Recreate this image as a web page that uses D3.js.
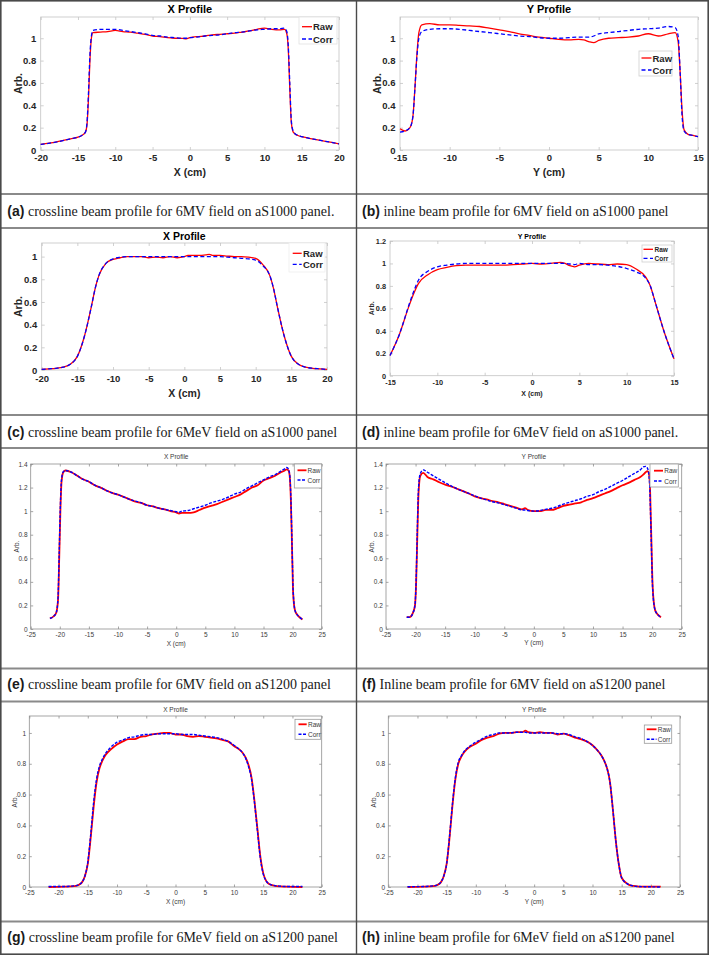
<!DOCTYPE html>
<html><head><meta charset="utf-8">
<script src="https://cdn.jsdelivr.net/npm/d3@7"></script>
<style>body{margin:0;background:#fff}svg{display:block}</style>
</head><body>
<svg id="fig" width="709" height="955"></svg>
<script>
// ---------------- DATA ----------------
const seriesNames = ['Raw', 'Corr'];
const titles = ['X Profile','Y Profile','X Profile','Y Profile','X Profile','Y Profile','X Profile','Y Profile'];
const xLabels = ['X (cm)','Y (cm)','X (cm)','X (cm)','X (cm)','Y (cm)','X (cm)','Y (cm)'];
const yLabel = 'Arb.';
const capTags = ['(a)','(b)','(c)','(d)','(e)','(f)','(g)','(h)'];
const capTexts = [
  ' crossline beam profile for 6MV field on aS1000 panel.',
  ' inline beam profile for 6MV field on aS1000 panel',
  ' crossline beam profile for 6MeV field on aS1000 panel',
  ' inline beam profile for 6MeV field on aS1000 panel.',
  ' crossline beam profile for 6MV field on aS1200 panel',
  ' Inline beam profile for 6MV field on aS1200 panel',
  ' crossline beam profile for 6MeV field on aS1200 panel',
  ' inline beam profile for 6MeV field on aS1200 panel'
];
const xTicks20 = [-20,-15,-10,-5,0,5,10,15,20];
const xTicks15 = [-15,-10,-5,0,5,10,15];
const xTicks25 = [-25,-20,-15,-10,-5,0,5,10,15,20,25];
const yTicks10 = [0,0.2,0.4,0.6,0.8,1];
const yTicks12 = [0,0.2,0.4,0.6,0.8,1,1.2];
const yTicks14 = [0,0.2,0.4,0.6,0.8,1,1.2,1.4];

const xA = [-20,-18,-16,-15,-14.5,-14,-13.8,-13.6,-13.4,-13.2,-13,-12,-11,-10,-9,-8,-7,-6,-5,-4,-3,-2,-1,-0.5,0,1,2,3,4,5,6,7,8,9,10,11,12,12.7,13,13.2,13.4,13.6,13.8,14,14.5,15,16,18,20];
const rawA = [0.05,0.07,0.1,0.115,0.13,0.16,0.22,0.45,0.8,1.0,1.05,1.055,1.06,1.07,1.06,1.055,1.045,1.035,1.02,1.015,1.005,1.0,0.998,0.995,1.005,1.015,1.02,1.03,1.035,1.04,1.045,1.055,1.065,1.08,1.09,1.08,1.075,1.08,1.04,0.9,0.55,0.25,0.17,0.15,0.13,0.12,0.105,0.08,0.055];
const corrA = [0.05,0.07,0.1,0.115,0.13,0.16,0.24,0.5,0.85,1.02,1.07,1.08,1.08,1.08,1.07,1.06,1.05,1.04,1.025,1.02,1.01,1.005,1.0,1.0,1.005,1.01,1.02,1.025,1.03,1.04,1.05,1.055,1.065,1.075,1.08,1.085,1.085,1.09,1.06,0.93,0.6,0.27,0.18,0.155,0.13,0.12,0.105,0.08,0.055];

const xB = [-15,-14.5,-14,-13.7,-13.5,-13.3,-13.1,-12.8,-12,-11,-10,-9,-8,-7,-6,-5,-4,-3,-2,-1,0,1,2,3,3.5,4,4.5,5,6,7,8,9,10,11,12,12.7,13,13.2,13.4,13.6,14,14.5,15];
const rawB = [0.19,0.17,0.2,0.3,0.55,0.85,1.05,1.12,1.13,1.12,1.12,1.115,1.11,1.105,1.09,1.075,1.06,1.04,1.025,1.01,1.0,0.99,0.985,0.99,0.985,0.97,0.96,0.98,1.0,1.005,1.01,1.02,1.04,1.02,1.04,1.05,0.97,0.7,0.35,0.18,0.14,0.13,0.12];
const corrB = [0.16,0.17,0.2,0.3,0.55,0.83,1.0,1.06,1.08,1.085,1.085,1.08,1.07,1.06,1.05,1.04,1.03,1.02,1.015,1.005,1.0,1.0,1.005,1.01,1.01,1.01,1.02,1.04,1.05,1.06,1.07,1.08,1.085,1.09,1.105,1.095,1.02,0.7,0.3,0.17,0.14,0.13,0.12];

const xC = [-20,-19,-18,-17,-16,-15,-14,-13,-12.5,-12,-11,-10,-9,-8,-7,-6,-5,-4,-3,-2,-1,0,0.5,1,2,3,3.5,4,5,6,7,8,9,10,11,12,12.5,13,14,15,16,17,18,19,20];
const rawC = [0.005,0.01,0.015,0.025,0.05,0.12,0.3,0.57,0.72,0.83,0.94,0.975,0.99,1.0,1.0,1.0,0.99,0.995,0.99,1.0,0.99,1.0,1.01,1.01,1.01,1.015,1.02,1.01,1.01,1.005,1.0,1.0,0.995,0.985,0.93,0.83,0.72,0.57,0.3,0.12,0.05,0.025,0.015,0.01,0.005];
const corrC = [0.005,0.01,0.015,0.025,0.05,0.12,0.3,0.57,0.72,0.83,0.94,0.98,0.995,1.0,1.0,1.0,1.0,1.0,1.0,1.0,1.0,1.0,1.0,1.0,1.0,1.0,1.0,1.0,1.0,0.995,0.99,0.985,0.98,0.97,0.92,0.83,0.72,0.57,0.3,0.12,0.05,0.025,0.015,0.01,0.005];

const xD = [-15,-14,-13,-12.5,-12,-11,-10,-9,-8,-7,-6,-5,-4,-3,-2,-1,0,1,2,3,3.5,4,4.5,5,6,7,8,9,10,11,12,12.5,13,14,15];
const rawD = [0.18,0.37,0.62,0.73,0.82,0.9,0.945,0.965,0.98,0.985,0.985,0.985,0.985,0.985,0.99,0.995,1.0,0.995,1.0,1.01,1.0,0.98,0.97,0.985,1.0,0.995,0.99,0.995,0.99,0.95,0.88,0.8,0.66,0.38,0.15];
const corrD = [0.18,0.37,0.63,0.75,0.85,0.93,0.97,0.985,0.995,1.0,1.0,1.0,1.0,1.0,1.0,1.0,1.0,1.0,1.0,1.0,1.0,0.995,0.99,1.0,0.99,0.99,0.985,0.975,0.955,0.925,0.87,0.8,0.66,0.38,0.15];

const xE = [-21.7,-21,-20.6,-20.3,-20.1,-19.9,-19.7,-19.4,-19,-18,-17,-16,-15,-14,-13,-12,-11,-10,-9,-8,-7,-6,-5,-4,-3,-2,-1,0,0.5,1,2,3,4,5,6,7,8,9,10,11,12,13,14,15,16,17,18,18.5,19,19.3,19.5,19.7,19.9,20.1,20.4,20.8,21.2,21.7];
const rawE = [0.09,0.11,0.14,0.25,0.6,1.0,1.25,1.33,1.345,1.33,1.3,1.27,1.25,1.22,1.2,1.175,1.155,1.14,1.12,1.1,1.08,1.07,1.05,1.04,1.025,1.015,1.0,0.99,0.98,0.985,0.985,0.99,1.01,1.03,1.045,1.06,1.08,1.1,1.12,1.14,1.17,1.2,1.22,1.26,1.28,1.3,1.33,1.34,1.355,1.345,1.3,1.1,0.7,0.3,0.16,0.12,0.1,0.08];
const corrE = [0.09,0.11,0.14,0.27,0.65,1.05,1.27,1.335,1.345,1.33,1.3,1.27,1.25,1.22,1.2,1.175,1.155,1.14,1.12,1.1,1.085,1.07,1.05,1.04,1.025,1.015,1.005,0.995,0.99,1.0,1.005,1.02,1.035,1.05,1.07,1.085,1.1,1.12,1.145,1.16,1.19,1.215,1.24,1.265,1.29,1.31,1.34,1.355,1.37,1.355,1.31,1.12,0.72,0.32,0.16,0.12,0.1,0.08];

const xF = [-21.5,-21,-20.5,-20.1,-19.9,-19.7,-19.5,-19.2,-18.7,-18,-17,-16,-15,-14,-13,-12,-11,-10,-9,-8,-7,-6,-5,-4,-3,-2,-1.5,-1,0,1,2,3,4,5,6,7,8,9,10,11,12,13,14,15,16,17,18,18.5,18.9,19.2,19.4,19.6,19.8,20.1,20.5,21,21.5];
const rawF = [0.1,0.1,0.13,0.2,0.4,0.8,1.15,1.3,1.325,1.29,1.27,1.245,1.225,1.21,1.19,1.17,1.15,1.125,1.11,1.1,1.085,1.075,1.06,1.045,1.03,1.015,1.025,1.01,1.0,1.0,1.01,1.01,1.025,1.045,1.055,1.065,1.075,1.095,1.11,1.13,1.15,1.17,1.195,1.22,1.24,1.265,1.29,1.31,1.33,1.34,1.33,1.25,0.9,0.35,0.16,0.12,0.1];
const corrF = [0.1,0.1,0.13,0.2,0.42,0.85,1.2,1.32,1.35,1.33,1.3,1.27,1.24,1.215,1.19,1.17,1.15,1.13,1.11,1.095,1.08,1.07,1.055,1.04,1.025,1.01,1.01,1.005,1.0,1.005,1.015,1.025,1.04,1.06,1.075,1.09,1.105,1.125,1.14,1.165,1.185,1.21,1.235,1.26,1.29,1.32,1.35,1.375,1.38,1.365,1.33,1.2,0.85,0.33,0.16,0.12,0.1];

const xG = [-21.7,-19,-18,-17,-16.5,-16,-15.5,-15,-14.5,-14,-13.5,-13,-12.5,-12,-11,-10,-9,-8,-7,-6,-5,-4,-3,-2,-1,0,1,2,3,4,5,6,7,8,9,10,11,11.5,12,12.5,13,13.5,14,14.5,15,15.5,16,17,18,19,21.7];
const rawG = [0.0,0.002,0.004,0.008,0.015,0.03,0.07,0.15,0.32,0.52,0.68,0.77,0.82,0.855,0.895,0.925,0.945,0.96,0.96,0.975,0.98,0.99,0.995,1.0,1.0,0.99,0.99,0.98,0.975,0.98,0.975,0.97,0.965,0.955,0.945,0.915,0.89,0.87,0.84,0.79,0.71,0.56,0.38,0.2,0.09,0.04,0.02,0.008,0.004,0.002,0.0];
const corrG = [0.003,0.003,0.005,0.009,0.016,0.03,0.07,0.16,0.34,0.55,0.7,0.785,0.83,0.865,0.91,0.94,0.955,0.97,0.975,0.985,0.99,0.99,0.995,0.995,0.995,0.995,0.99,0.99,0.99,0.985,0.98,0.975,0.97,0.96,0.945,0.92,0.89,0.87,0.835,0.78,0.7,0.55,0.37,0.19,0.085,0.04,0.02,0.009,0.005,0.003,0.003];

const xH = [-21.7,-19,-18,-17,-16.5,-16,-15.5,-15,-14.5,-14,-13.5,-13,-12.5,-12,-11,-10,-9,-8,-7,-6,-5,-4,-3,-2,-1.5,-1,0,1,2,3,4,5,6,7,8,9,10,11,11.5,12,12.5,13,13.5,14,14.5,15,16,17,18,19,21.7];
const rawH = [0.0,0.002,0.004,0.008,0.015,0.03,0.07,0.15,0.32,0.53,0.7,0.8,0.845,0.875,0.91,0.93,0.955,0.97,0.98,0.995,1.0,1.0,1.005,1.005,1.015,1.005,1.0,1.005,1.0,1.0,0.99,0.995,0.985,0.97,0.96,0.945,0.92,0.88,0.855,0.82,0.77,0.68,0.5,0.3,0.15,0.06,0.02,0.007,0.003,0.002,0.002];
const corrH = [0.002,0.003,0.005,0.009,0.016,0.03,0.07,0.15,0.33,0.54,0.71,0.81,0.85,0.88,0.915,0.94,0.96,0.98,0.99,1.0,1.0,1.0,1.005,1.005,1.005,1.0,1.0,1.0,1.0,1.0,0.995,0.995,0.99,0.975,0.965,0.945,0.92,0.88,0.855,0.82,0.77,0.68,0.5,0.3,0.15,0.06,0.02,0.007,0.003,0.002,0.0];

// ---------------- LAYOUT ----------------
const panels = [
 {x:xA, raw:rawA, corr:corrA, L:40.7,R:339,T:17,B:150, xd:[-20,20], yd:[0,1.19], xt:xTicks20, yt:yTicks10, st:'new',
  fs:9.5, tfs:11, lfs:10.5, titleY:9, xlabY:172, ylabX:18, xOff:8, yOff:4.5,
  leg:{x0:299,y0:17,x1:337,y1:44,l0:302,l1:312,tx:313,r1:26.7,r2:39,fs:9.5,stroke:'#e2e2e2'}},
 {x:xB, raw:rawB, corr:corrB, L:400,R:698,T:17,B:150, xd:[-15,15], yd:[0,1.19], xt:xTicks15, yt:yTicks10, st:'new',
  fs:9.5, tfs:11, lfs:10.5, titleY:9, xlabY:172, ylabX:376.7, xOff:8, yOff:4.5,
  leg:{x0:639,y0:51,x1:672,y1:76,l0:641.5,l1:651.5,tx:652.5,r1:58,r2:70,fs:9.5,stroke:'#cfcfcf'}},
 {x:xC, raw:rawC, corr:corrC, L:41.7,R:327,T:243,B:370, xd:[-20,20], yd:[0,1.12], xt:xTicks20, yt:yTicks10, st:'new',
  fs:9.5, tfs:10.5, lfs:10.5, titleY:236, xlabY:393, ylabX:18.3, xOff:9, yOff:4.5,
  leg:{x0:289,y0:243,x1:325,y1:272,l0:292.7,l1:301.7,tx:303,r1:253.3,r2:264.3,fs:9.5,stroke:'#eeeeee'}},
 {x:xD, raw:rawD, corr:corrD, L:390,R:674,T:241,B:375.7, xd:[-15,15], yd:[0,1.2], xt:xTicks15, yt:yTicks12, st:'new',
  fs:7.3, tfs:7, lfs:7, titleY:236, xlabY:393, ylabX:371.7, xOff:7, yOff:4,
  leg:{x0:642,y0:245,x1:672,y1:262,l0:643.5,l1:653,tx:654.5,r1:249.3,r2:258.3,fs:6.5,stroke:'#cfcfcf'}},
 {x:xE, raw:rawE, corr:corrE, L:30.7,R:321.7,T:464,B:629, xd:[-25,25], yd:[0,1.4], xt:xTicks25, yt:yTicks14, st:'old',
  fs:6.5, tfs:6.5, lfs:6.5, titleY:456, xlabY:643, ylabX:16, xOff:6, yOff:3.2,
  leg:{x0:294.3,y0:464,x1:321.7,y1:488,l0:297.5,l1:306.5,tx:307.5,r1:470.3,r2:480,fs:6.5,stroke:'#9a9a9a'}},
 {x:xF, raw:rawF, corr:corrF, L:386,R:681.7,T:464,B:629, xd:[-25,25], yd:[0,1.4], xt:xTicks25, yt:yTicks14, st:'old',
  fs:6.5, tfs:6.5, lfs:6.5, titleY:456, xlabY:642.3, ylabX:371, xOff:6, yOff:3.2,
  leg:{x0:650,y0:464,x1:678.3,y1:487,l0:654,l1:663,tx:664.3,r1:470.7,r2:481,fs:6.5,stroke:'#9a9a9a'}},
 {x:xG, raw:rawG, corr:corrG, L:29.3,R:321.7,T:716,B:887, xd:[-25,25], yd:[0,1.11], xt:xTicks25, yt:yTicks10, st:'old',
  fs:6.5, tfs:6.5, lfs:6.5, titleY:709, xlabY:901, ylabX:14.3, xOff:6, yOff:3.2,
  leg:{x0:295,y0:719.3,x1:320.7,y1:739.3,l0:298.5,l1:306.7,tx:308,r1:724.3,r2:734.3,fs:6.5,stroke:'#9a9a9a'}},
 {x:xH, raw:rawH, corr:corrH, L:388.3,R:680,T:716,B:887, xd:[-25,25], yd:[0,1.11], xt:xTicks25, yt:yTicks10, st:'old',
  fs:6.5, tfs:6.5, lfs:6.5, titleY:709, xlabY:901, ylabX:373.3, xOff:6, yOff:3.2,
  leg:{x0:644.3,y0:725,x1:671.7,y1:743.3,l0:646.7,l1:656.5,tx:657.7,r1:729.3,r2:739.3,fs:6.5,stroke:'#9a9a9a'}}
];
const captionRows = [211, 432, 683.5, 937];
const captionX = [7.3, 362];
const hLines = [194, 228, 415, 448, 668.5, 701.5, 921.5];

// ---------------- DRAW ----------------
const svg = d3.select('#fig');
svg.append('rect').attr('width',709).attr('height',955).attr('fill','#fff');

const fmt = d => String(+d.toFixed(2));

panels.forEach((p, i) => {
  const isNew = p.st === 'new';
  const font = isNew ? "'Liberation Sans', Arial, sans-serif" : "'Liberation Sans', Arial, Helvetica, sans-serif";
  const weight = isNew ? 'bold' : 'normal';
  const txtCol = isNew ? '#262626' : '#3a3a3a';
  const boxCol = isNew ? '#c4c4c4' : '#8f8f8f';
  const tick = isNew ? 3 : 2.5;
  const xs = d3.scaleLinear().domain(p.xd).range([p.L, p.R]);
  const ys = d3.scaleLinear().domain(p.yd).range([p.B, p.T]);
  const g = svg.append('g').attr('font-family', font).attr('font-weight', weight);

  // box
  g.append('rect').attr('x',p.L).attr('y',p.T).attr('width',p.R-p.L).attr('height',p.B-p.T)
    .attr('fill','#fff').attr('stroke',boxCol).attr('stroke-width',0.8);

  const styleAxis = (sel) => {
    sel.select('.domain').remove();
    sel.selectAll('line').attr('stroke', boxCol).attr('stroke-width',0.8);
    sel.selectAll('text').attr('fill', txtCol).attr('font-size', p.fs).attr('font-family', font).attr('font-weight', weight);
  };
  // bottom
  g.append('g').attr('transform',`translate(0,${p.B})`)
    .call(d3.axisBottom(xs).tickValues(p.xt).tickFormat(fmt).tickSizeInner(-tick).tickSizeOuter(0).tickPadding(p.xOff - 0.35*p.fs))
    .call(styleAxis);
  // top (ticks only)
  g.append('g').attr('transform',`translate(0,${p.T})`)
    .call(d3.axisTop(xs).tickValues(p.xt).tickFormat('').tickSizeInner(-tick).tickSizeOuter(0))
    .call(styleAxis);
  // left
  g.append('g').attr('transform',`translate(${p.L},0)`)
    .call(d3.axisLeft(ys).tickValues(p.yt).tickFormat(fmt).tickSizeInner(-tick).tickSizeOuter(0).tickPadding(p.yOff))
    .call(styleAxis);
  // right (ticks only)
  g.append('g').attr('transform',`translate(${p.R},0)`)
    .call(d3.axisRight(ys).tickValues(p.yt).tickFormat('').tickSizeInner(-tick).tickSizeOuter(0))
    .call(styleAxis);

  // series
  const pts = (arr) => p.x.map((v, k) => [v, arr[k]]);
  const line = d3.line().x(d => xs(d[0])).y(d => ys(d[1])).curve(d3.curveMonotoneX);
  const wRaw = isNew ? 1.3 : 1.8, wCorr = isNew ? 1.3 : 1.4;
  const dash = isNew ? '4,2.5' : '3,1.5';
  g.append('path').attr('d', line(pts(p.raw))).attr('fill','none').attr('stroke','#ff0000').attr('stroke-width',wRaw);
  g.append('path').attr('d', line(pts(p.corr))).attr('fill','none').attr('stroke','#0000ff').attr('stroke-width',wCorr).attr('stroke-dasharray',dash);

  // title & labels
  const cx = (p.L + p.R)/2;
  g.append('text').attr('x',cx).attr('y',p.titleY).attr('text-anchor','middle').attr('dominant-baseline','central')
    .attr('font-size',p.tfs).attr('fill', isNew ? '#000' : '#3a3a3a').text(titles[i]);
  g.append('text').attr('x',cx).attr('y',p.xlabY).attr('text-anchor','middle').attr('dominant-baseline','central')
    .attr('font-size',p.lfs).attr('fill',txtCol).text(xLabels[i]);
  g.append('text').attr('transform',`translate(${p.ylabX},${(p.T+p.B)/2}) rotate(-90)`)
    .attr('text-anchor','middle').attr('dominant-baseline','central')
    .attr('font-size',p.lfs).attr('fill',txtCol).text(yLabel);

  // legend
  const lg = p.leg;
  g.append('rect').attr('x',lg.x0).attr('y',lg.y0).attr('width',lg.x1-lg.x0).attr('height',lg.y1-lg.y0)
    .attr('fill','#fff').attr('stroke',lg.stroke).attr('stroke-width',0.8);
  [[lg.r1,'#ff0000',wRaw,null],[lg.r2,'#0000ff',wCorr,dash]].forEach((r, k) => {
    const ln = g.append('line').attr('x1',lg.l0).attr('x2',lg.l1).attr('y1',r[0]).attr('y2',r[0])
      .attr('stroke',r[1]).attr('stroke-width',r[2]);
    if (r[3]) ln.attr('stroke-dasharray',r[3]);
    g.append('text').attr('x',lg.tx).attr('y',r[0]).attr('dominant-baseline','central')
      .attr('font-size',lg.fs).attr('fill',txtCol).text(seriesNames[k]);
  });

  // caption
  const cap = svg.append('text').attr('x', captionX[i % 2]).attr('y', captionRows[Math.floor(i/2)])
    .attr('dominant-baseline','central').attr('fill','#1a1a1a');
  cap.append('tspan').attr('font-family',"'Liberation Sans', Arial, sans-serif").attr('font-weight','bold')
    .attr('font-size',14).text(capTags[i]);
  cap.append('tspan').attr('font-family',"'Liberation Serif', 'Times New Roman', serif")
    .attr('font-size',14).text(capTexts[i]);
});

// table rules
hLines.forEach(y => svg.append('line').attr('x1',0).attr('x2',709).attr('y1',y).attr('y2',y)
  .attr('stroke','#8a8a8a').attr('stroke-width',1.8));
svg.append('line').attr('x1',356.5).attr('x2',356.5).attr('y1',0).attr('y2',955)
  .attr('stroke','#4a4a4a').attr('stroke-width',1.4);
svg.append('rect').attr('x',0.8).attr('y',0.8).attr('width',707.4).attr('height',953.4)
  .attr('fill','none').attr('stroke','#4a4a4a').attr('stroke-width',1.6);
</script>
</body></html>
